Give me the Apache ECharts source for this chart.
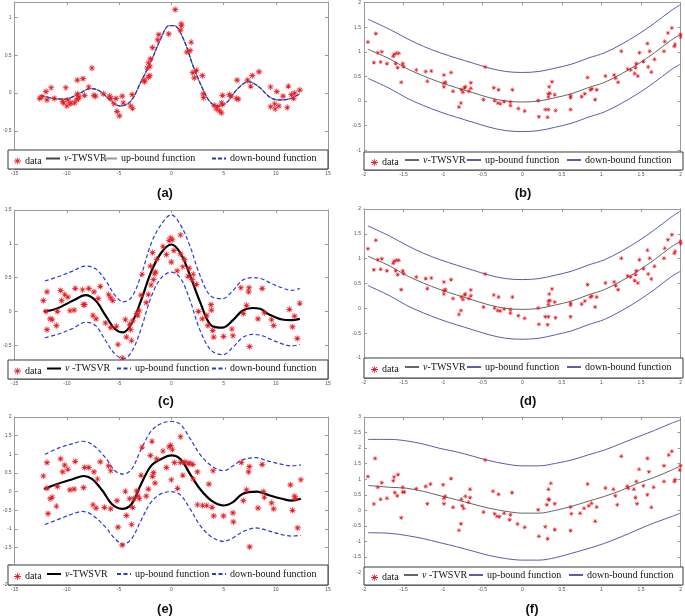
<!DOCTYPE html>
<html><head><meta charset="utf-8">
<script src="https://cdn.jsdelivr.net/npm/echarts@6/dist/echarts.min.js"></script>
<style>html,body{margin:0;padding:0;background:#fff}#c{width:685px;height:616px}</style>
</head><body><div id="c"></div>
<script>
// ---------- tick labels ----------
const xTicksLeft = [-15,-10,-5,0,5,10,15];
const xTicksRight = [-2,-1.5,-1,-0.5,0,0.5,1,1.5,2];
const yTicksA = [-1,-0.5,0,0.5,1];
const yTicksBD = [-1,-0.5,0,0.5,1,1.5,2];
const yTicksC = [-1,-0.5,0,0.5,1,1.5];
const yTicksE = [-2.5,-2,-1.5,-1,-0.5,0,0.5,1,1.5,2];
const yTicksF = [-2,-1.5,-1,-0.5,0,0.5,1,1.5,2,2.5,3];
const captions = ['(a)','(b)','(c)','(d)','(e)','(f)'];
const legendNames = ['data','ν-TWSVR','up-bound function','down-bound function'];

// ---------- panel (a) ----------
const aData = [[-12.6,-0.07],[-12.4,-0.05],[-12.0,0.02],[-11.9,-0.09],[-11.5,0.07],[-11.2,-0.07],[-10.4,-0.11],[-10.3,-0.13],[-10.1,0.07],[-10.0,-0.17],[-9.9,-0.09],[-9.7,-0.14],[-9.6,-0.13],[-9.25,-0.13],[-9.06,-0.09],[-9.0,0.17],[-9.0,-0.01],[-8.9,-0.07],[-8.85,-0.05],[-8.45,0.19],[-8.3,-0.03],[-7.9,0.08],[-7.6,0.33],[-7.4,-0.03],[-7.25,-0.04],[-6.5,-0.01],[-5.9,-0.04],[-5.8,-0.07],[-5.5,-0.14],[-5.3,-0.07],[-5.2,-0.24],[-4.97,-0.30],[-4.7,-0.04],[-4.6,-0.13],[-3.9,-0.17],[-3.75,-0.02],[-3.7,-0.20],[-2.6,0.17],[-2.56,0.15],[-2.3,0.33],[-2.2,0.40],[-2.2,0.21],[-2.06,0.23],[-2.03,0.35],[-2.0,0.45],[-1.8,0.60],[-1.3,0.70],[-1.2,0.77],[-0.25,0.78],[0.37,1.10],[0.88,0.83],[0.94,0.91],[1.0,0.89],[1.5,0.54],[1.9,0.67],[1.8,0.56],[2.06,0.27],[2.2,0.20],[2.4,0.30],[2.97,0.23],[3.06,-0.01],[3.1,-0.06],[4.1,-0.16],[4.3,-0.21],[4.4,-0.18],[4.6,-0.23],[4.8,-0.26],[4.8,-0.13],[4.9,-0.03],[4.9,-0.15],[5.56,-0.02],[5.7,-0.04],[6.25,-0.07],[6.3,0.17],[6.4,-0.08],[7.3,0.17],[7.6,0.09],[7.75,0.23],[8.4,0.28],[9.5,0.08],[9.5,-0.18],[9.9,-0.14],[9.94,-0.21],[10.1,0.02],[10.3,-0.17],[10.7,-0.04],[11.1,-0.19],[11.2,0.09],[11.5,-0.02],[11.7,-0.07],[11.8,0.0],[12.3,0.04]];
const aFit = [[-12.5,-0.03],[-11.3,-0.07],[-10.2,-0.08],[-9.0,-0.02],[-7.7,0.06],[-6.9,0.03],[-5.8,-0.10],[-4.9,-0.17],[-3.9,-0.11],[-2.9,0.15],[-1.9,0.43],[-1.0,0.72],[-0.2,0.89],[0.25,0.89],[1.2,0.70],[2.1,0.35],[3.06,0.04],[3.8,-0.13],[4.6,-0.17],[5.4,-0.11],[6.3,0.05],[7.4,0.15],[8.4,0.08],[9.3,-0.04],[10.2,-0.09],[11.2,-0.08],[12.3,-0.01]];

// ---------- panels (b) and (d) (same sample) ----------
const bData = [[-1.95,1.20],[-1.875,0.78],[-1.85,1.37],[-1.825,0.98],[-1.79,0.79],[-1.775,1.0],[-1.71,0.76],[-1.63,0.91],[-1.62,0.95],[-1.6,0.76],[-1.59,0.97],[-1.575,0.68],[-1.56,0.97],[-1.53,0.38],[-1.51,0.76],[-1.5,0.70],[-1.34,0.63],[-1.22,0.60],[-1.2,0.40],[-1.15,0.61],[-0.99,0.53],[-0.99,0.36],[-0.99,0.29],[-0.97,0.38],[-0.9,0.58],[-0.875,0.20],[-0.8,-0.12],[-0.775,-0.04],[-0.77,0.23],[-0.75,0.18],[-0.73,0.27],[-0.72,0.29],[-0.675,0.20],[-0.65,0.37],[-0.65,0.26],[-0.49,0.03],[-0.47,0.69],[-0.36,0.27],[-0.35,0.01],[-0.31,-0.04],[-0.3,0.23],[-0.28,-0.05],[-0.23,-0.01],[-0.15,-0.09],[-0.15,-0.02],[-0.125,0.23],[-0.05,-0.15],[0.03,-0.20],[0.2,0.01],[0.21,-0.32],[0.29,-0.17],[0.32,-0.33],[0.33,-0.17],[0.33,0.08],[0.33,0.15],[0.34,0.29],[0.35,0.16],[0.375,0.39],[0.41,0.13],[0.42,-0.19],[0.61,0.11],[0.61,0.07],[0.61,-0.17],[0.75,0.09],[0.79,0.15],[0.825,0.48],[0.86,0.23],[0.88,0.25],[0.92,0.03],[0.94,0.23],[1.05,0.51],[1.16,0.53],[1.18,0.46],[1.21,0.38],[1.25,1.01],[1.33,0.65],[1.37,0.63],[1.42,0.56],[1.43,0.68],[1.44,0.76],[1.46,0.51],[1.48,0.98],[1.53,0.80],[1.58,1.17],[1.59,0.69],[1.61,1.01],[1.63,0.59],[1.67,0.85],[1.79,1.01],[1.8,1.21],[1.84,1.38],[1.89,1.48],[1.92,1.11],[1.93,1.15],[2.0,1.35],[2.0,1.30]];
const bFit = [[-1.95,1.05],[-1.67,0.85],[-1.46,0.66],[-1.25,0.51],[-1.04,0.38],[-0.83,0.27],[-0.625,0.17],[-0.42,0.07],[-0.21,0.0],[0,-0.02],[0.21,0.0],[0.42,0.07],[0.625,0.15],[0.83,0.27],[1.04,0.38],[1.25,0.55],[1.46,0.75],[1.67,0.98],[1.875,1.23],[2.0,1.35]];
const bUp = [[-1.95,1.66],[-1.67,1.45],[-1.46,1.27],[-1.25,1.11],[-1.04,0.98],[-0.83,0.87],[-0.625,0.77],[-0.42,0.67],[-0.21,0.6],[0,0.58],[0.21,0.6],[0.42,0.67],[0.625,0.75],[0.83,0.87],[1.04,0.98],[1.25,1.15],[1.46,1.35],[1.67,1.58],[1.875,1.83],[2.0,1.96]];
const bDown = [[-1.95,0.46],[-1.67,0.25],[-1.46,0.06],[-1.25,-0.09],[-1.04,-0.22],[-0.83,-0.33],[-0.625,-0.43],[-0.42,-0.53],[-0.21,-0.6],[0,-0.62],[0.21,-0.6],[0.42,-0.53],[0.625,-0.45],[0.83,-0.33],[1.04,-0.22],[1.25,-0.05],[1.46,0.15],[1.67,0.38],[1.875,0.63],[2.0,0.75]];

// ---------- panel (c) ----------
const cData = [[-12.25,0.16],[-12.0,0.0],[-11.9,0.29],[-11.9,-0.27],[-11.6,-0.11],[-11.4,-0.12],[-11.0,-0.21],[-10.9,0.0],[-10.6,0.31],[-10.5,0.16],[-10.2,0.25],[-9.9,0.21],[-9.7,0.01],[-9.3,0.02],[-9.2,0.34],[-8.5,0.32],[-8.4,0.10],[-8.3,0.10],[-7.9,0.34],[-7.5,-0.06],[-7.4,0.29],[-7.2,-0.11],[-7.0,0.19],[-6.8,0.37],[-6.3,-0.17],[-6.0,0.25],[-5.8,-0.24],[-5.8,0.20],[-5.6,0.16],[-5.25,-0.22],[-5.1,-0.49],[-4.7,-0.69],[-4.4,-0.12],[-4.3,-0.38],[-4.0,-0.19],[-3.9,-0.27],[-3.8,-0.43],[-3.7,-0.14],[-3.3,-0.03],[-3.2,-0.06],[-3.06,0.01],[-2.9,0.24],[-2.8,0.55],[-2.4,0.13],[-2.2,0.25],[-2.0,0.67],[-1.94,0.39],[-1.8,0.87],[-1.7,0.47],[-1.6,0.56],[-1.5,0.58],[-1.4,0.77],[-0.8,0.96],[-0.47,0.84],[-0.2,1.05],[-0.06,1.09],[0.0,0.73],[0.1,1.06],[0.25,0.90],[0.56,0.60],[0.88,1.13],[0.88,0.85],[1.1,0.66],[1.25,0.77],[1.6,0.52],[1.7,0.64],[2.0,0.47],[2.1,0.55],[2.4,0.40],[2.6,0.0],[2.97,-0.11],[3.4,-0.06],[3.5,-0.21],[3.8,0.10],[3.84,0.02],[3.97,-0.28],[4.06,-0.38],[5.0,-0.37],[5.8,-0.26],[5.9,-0.36],[6.66,0.35],[6.9,-0.03],[7.2,0.09],[7.4,0.29],[7.44,0.35],[7.5,-0.52],[8.3,-0.11],[8.7,0.34],[8.9,-0.02],[9.6,-0.12],[9.8,-0.21],[11.3,0.03],[11.6,-0.23],[11.8,-0.07],[12.06,-0.40],[12.3,0.12]];
const cFit = [[-12.2,0.0],[-11.0,0.04],[-9.4,0.16],[-8.2,0.24],[-7.25,0.16],[-6.3,-0.06],[-5.4,-0.26],[-4.6,-0.31],[-3.8,-0.18],[-2.9,0.16],[-1.94,0.58],[-1.0,0.86],[0,0.99],[0.88,0.86],[1.8,0.53],[2.75,0.14],[3.84,-0.21],[4.94,-0.24],[5.9,-0.13],[6.8,0.01],[7.75,0.05],[8.5,0.04],[9.3,-0.04],[10.6,-0.12],[11.5,-0.13],[12.3,-0.11]];
const cUp = [[-12.1,0.45],[-10.7,0.52],[-9.4,0.60],[-8.2,0.67],[-7.25,0.63],[-6.3,0.46],[-5.4,0.24],[-4.6,0.14],[-3.8,0.21],[-2.9,0.53],[-1.94,1.0],[-1.0,1.28],[0,1.43],[0.88,1.28],[1.8,0.96],[2.75,0.53],[3.84,0.22],[4.94,0.19],[5.9,0.31],[6.8,0.46],[7.75,0.50],[8.7,0.48],[9.6,0.41],[10.6,0.35],[11.5,0.31],[12.3,0.34]];
const cDown = [[-12.1,-0.39],[-10.7,-0.33],[-9.4,-0.25],[-8.2,-0.16],[-7.25,-0.21],[-6.3,-0.43],[-5.4,-0.63],[-4.6,-0.70],[-3.8,-0.60],[-2.9,-0.26],[-1.94,0.21],[-1.0,0.49],[0,0.58],[0.88,0.49],[1.8,0.16],[2.75,-0.28],[3.84,-0.58],[4.94,-0.64],[5.9,-0.53],[6.8,-0.39],[7.75,-0.34],[8.7,-0.36],[9.6,-0.42],[10.6,-0.48],[11.5,-0.51],[12.3,-0.49]];

// ---------- panel (e) ----------
const eData = [[-12.25,0.42],[-11.9,0.78],[-11.9,0.09],[-11.8,-0.59],[-11.6,-0.19],[-11.4,-0.15],[-11.0,-0.39],[-10.9,0.14],[-10.6,0.88],[-10.4,0.53],[-10.2,0.71],[-9.9,0.60],[-9.7,0.05],[-9.3,0.07],[-9.2,0.81],[-8.3,0.65],[-8.4,0.11],[-7.9,0.65],[-7.5,-0.35],[-7.4,0.53],[-7.2,-0.44],[-7.06,0.34],[-6.8,0.80],[-6.4,-0.42],[-6.0,0.69],[-5.8,-0.46],[-5.8,0.56],[-5.2,-0.24],[-5.1,-0.95],[-4.7,-1.43],[-4.4,0.01],[-4.3,-0.64],[-4.0,-0.19],[-3.8,-0.88],[-3.7,-0.42],[-3.6,-0.19],[-3.3,0.02],[-3.2,-0.12],[-3.06,-0.19],[-2.9,0.44],[-2.8,1.19],[-2.4,-0.12],[-2.2,0.07],[-2.0,0.97],[-1.85,1.35],[-1.8,0.41],[-1.7,0.51],[-1.56,0.23],[-1.4,0.88],[-0.8,1.09],[-0.47,0.65],[-0.2,1.20],[-0.06,1.24],[0,0.32],[0.1,1.13],[0.3,0.78],[0.6,0.09],[0.88,1.47],[0.88,0.78],[1.1,0.44],[1.3,0.80],[1.6,0.76],[1.8,0.76],[2.06,0.73],[2.1,0.34],[2.5,0.53],[2.5,-0.35],[3.0,-0.37],[3.4,-0.37],[3.6,0.20],[3.9,-0.42],[4.0,0.56],[4.06,-0.65],[5.0,-0.65],[5.9,-0.57],[5.94,-0.81],[6.7,0.78],[6.9,-0.24],[7.2,0.05],[7.4,0.53],[7.47,0.67],[7.5,-1.48],[8.3,-0.44],[8.7,0.73],[8.8,0.0],[8.9,-0.15],[9.6,-0.30],[9.8,-0.46],[11.4,0.18],[11.6,-0.50],[11.8,-0.12],[11.9,-0.18],[12.1,-0.97],[12.4,0.32]];
const eFit = [[-12.2,0.07],[-11.0,0.20],[-9.4,0.34],[-8.4,0.42],[-7.6,0.34],[-6.6,0.03],[-5.7,-0.33],[-4.7,-0.46],[-3.8,-0.33],[-2.9,0.20],[-1.94,0.69],[-1.0,0.87],[0,0.97],[0.88,0.87],[1.8,0.47],[2.75,0.07],[3.84,-0.24],[5.0,-0.37],[5.9,-0.28],[6.8,-0.06],[8.2,0.0],[9.3,-0.09],[10.6,-0.19],[11.5,-0.24],[12.4,-0.19]];
const eUp = [[-12.1,1.0],[-10.7,1.18],[-9.4,1.29],[-8.5,1.35],[-7.6,1.27],[-6.3,0.91],[-5.4,0.56],[-4.6,0.47],[-3.8,0.60],[-2.9,1.13],[-1.94,1.62],[-1.0,1.82],[0,1.88],[0.88,1.80],[1.8,1.42],[2.75,1.0],[3.84,0.69],[5.0,0.56],[5.9,0.69],[6.8,0.85],[8.1,0.91],[9.3,0.82],[10.6,0.73],[11.5,0.69],[12.4,0.72]];
const eDown = [[-12.1,-0.88],[-10.7,-0.73],[-9.4,-0.59],[-8.5,-0.53],[-7.6,-0.62],[-6.3,-0.95],[-5.4,-1.26],[-4.6,-1.41],[-3.8,-1.26],[-2.9,-0.77],[-1.94,-0.28],[-1.0,-0.06],[0,0.0],[0.88,-0.09],[1.8,-0.46],[2.75,-0.90],[3.84,-1.21],[5.0,-1.33],[5.9,-1.24],[6.8,-1.08],[8.1,-0.97],[9.3,-1.05],[10.6,-1.15],[11.5,-1.19],[12.4,-1.17]];

// ---------- panel (f) ----------
const fData = [[-1.95,1.09],[-1.875,0.20],[-1.86,1.67],[-1.825,0.74],[-1.79,0.36],[-1.775,0.89],[-1.71,0.39],[-1.63,0.95],[-1.62,1.07],[-1.61,0.57],[-1.58,0.47],[-1.57,1.15],[-1.53,-0.24],[-1.51,0.74],[-1.51,0.59],[-1.49,0.59],[-1.34,0.69],[-1.22,0.77],[-1.2,0.21],[-1.16,0.85],[-1.0,0.82],[-0.99,0.39],[-0.99,0.21],[-0.975,0.45],[-0.9,1.02],[-0.875,0.10],[-0.8,-0.64],[-0.775,-0.43],[-0.77,0.36],[-0.76,0.15],[-0.74,0.07],[-0.72,0.45],[-0.68,0.26],[-0.66,0.68],[-0.66,0.41],[-0.49,-0.05],[-0.47,1.62],[-0.37,0.61],[-0.35,-0.11],[-0.32,-0.19],[-0.3,0.52],[-0.29,-0.21],[-0.23,-0.09],[-0.16,-0.30],[-0.15,-0.14],[-0.13,0.57],[-0.06,-0.44],[0.03,-0.54],[0.2,0.02],[0.21,-0.83],[0.29,-0.53],[0.32,-0.91],[0.31,0.18],[0.33,0.36],[0.33,0.68],[0.34,0.34],[0.36,0.87],[0.41,0.21],[0.41,-0.62],[0.61,0.11],[0.62,-0.11],[0.61,-0.65],[0.73,-0.09],[0.78,0.07],[0.825,0.85],[0.84,0.15],[0.875,0.23],[0.92,-0.35],[0.94,0.11],[1.05,0.72],[1.15,0.68],[1.175,0.47],[1.2,0.18],[1.25,1.74],[1.325,0.77],[1.34,0.71],[1.41,0.68],[1.43,0.41],[1.44,0.93],[1.45,0.21],[1.475,1.32],[1.53,0.79],[1.58,1.67],[1.58,0.50],[1.6,1.24],[1.63,0.10],[1.66,0.74],[1.79,0.93],[1.79,1.43],[1.85,1.78],[1.89,1.90],[1.92,0.93],[1.93,0.98],[1.99,1.30],[2.0,1.43]];
const fFit = [[-1.95,0.80],[-1.67,0.74],[-1.46,0.71],[-1.25,0.61],[-1.04,0.47],[-0.83,0.34],[-0.625,0.20],[-0.42,0.07],[-0.21,-0.03],[0,-0.09],[0.21,-0.09],[0.42,0.0],[0.625,0.13],[0.83,0.29],[1.04,0.45],[1.25,0.64],[1.46,0.87],[1.67,1.06],[1.875,1.28],[2.0,1.43]];
const fUp = [[-1.95,2.28],[-1.67,2.28],[-1.46,2.23],[-1.25,2.13],[-1.04,1.99],[-0.83,1.88],[-0.625,1.74],[-0.42,1.60],[-0.21,1.49],[0,1.43],[0.21,1.43],[0.42,1.51],[0.625,1.62],[0.83,1.78],[1.04,1.94],[1.25,2.15],[1.46,2.36],[1.67,2.57],[1.875,2.79],[2.0,2.91]];
const fDown = [[-1.95,-0.72],[-1.67,-0.74],[-1.46,-0.81],[-1.25,-0.91],[-1.04,-1.04],[-0.83,-1.17],[-0.625,-1.31],[-0.42,-1.45],[-0.21,-1.55],[0,-1.60],[0.21,-1.60],[0.42,-1.52],[0.625,-1.38],[0.83,-1.23],[1.04,-1.06],[1.25,-0.85],[1.46,-0.62],[1.67,-0.40],[1.875,-0.21],[2.0,-0.09]];

// ---------- styling / layout ----------
const STAR = 'path://M-0.55,-5L0.55,-5L0.55,5L-0.55,5Z M-5,-0.55L5,-0.55L5,0.55L-5,0.55Z M-3.9,-3.1L-3.1,-3.9L3.9,3.1L3.1,3.9Z M3.1,-3.9L3.9,-3.1L-3.1,3.9L-3.9,3.1Z';
const STYLES = {
  a: {star:6, halo:true, fit:{color:'#444',width:1}, up:{color:'#999',width:1}, down:{color:'#2b35c8',width:1.3,type:[4,2]}},
  thin: {star:4.5, halo:false, fit:{color:'#666',width:1}, up:{color:'#5c5ca8',width:1}, down:{color:'#5c5ca8',width:1}},
  bold: {star:6, halo:true, fit:{color:'#000',width:2.2}, up:{color:'#2b3bd0',width:1.2,type:[4,2.5]}, down:{color:'#2b3bd0',width:1.2,type:[4,2.5]}}
};
const PANELS = [
  {id:'a', grid:{left:8,top:2,width:320,height:167}, x:[-15,15], y:[-1,1.2], xt:xTicksLeft, yt:yTicksA, box:{top:150,h:19}, lg:[6,37,94,203], nu:'{i|ν}-TWSVR', st:'a', d:[aData,aFit,aFit,aFit], cap:[165,193]},
  {id:'b', grid:{left:364,top:1,width:319,height:169}, x:[-2,2], y:[-1.4,2], xt:xTicksRight, yt:yTicksBD, box:{top:152,h:18}, lg:[7,40,102,202], nu:'{i|ν}-TWSVR', st:'thin', d:[bData,bFit,bUp,bDown], cap:[523,193]},
  {id:'c', grid:{left:8,top:210,width:320,height:169}, x:[-15,15], y:[-1,1.5], xt:xTicksLeft, yt:yTicksC, box:{top:360,h:19}, lg:[6,38,108,203], nu:'{i|ν} -TWSVR', st:'bold', d:[cData,cFit,cUp,cDown], cap:[166,401]},
  {id:'d', grid:{left:364,top:209,width:319,height:169}, x:[-2,2], y:[-1.4,2], xt:xTicksRight, yt:yTicksBD, box:{top:358,h:20}, lg:[7,40,102,202], nu:'{i|ν}-TWSVR', st:'thin', d:[bData,bFit,bUp,bDown], cap:[528,401]},
  {id:'e', grid:{left:8,top:417,width:320,height:168}, x:[-15,15], y:[-2.5,2], xt:xTicksLeft, yt:yTicksE, box:{top:565,h:20}, lg:[6,38,108,203], nu:'{i|ν}-TWSVR', st:'bold', d:[eData,eFit,eUp,eDown], cap:[165,609]},
  {id:'f', grid:{left:364,top:417,width:319,height:168}, x:[-2,2], y:[-2.4,3], xt:xTicksRight, yt:yTicksF, box:{top:567,h:18}, lg:[7,39,104,204], nu:'{i|ν} -TWSVR', st:'thin', d:[fData,fFit,fUp,fDown], cap:[532,609]}
];

const axisCol = '#9a9a9a';
const lblStyle = {fontSize:5, color:'#555', fontFamily:'Liberation Sans'};
const grids=[], xAxes=[], yAxes=[], series=[], legends=[], graphics=[];

PANELS.forEach((p,i)=>{
  grids.push(Object.assign({containLabel:false, show:false}, p.grid));
  const xi = xAxes.length, yi = yAxes.length;
  ['bottom','top'].forEach((pos,k)=>{
    xAxes.push({type:'value', gridIndex:i, position:pos, min:p.x[0], max:p.x[1],
      axisLine:{show:true, onZero:false, lineStyle:{color:axisCol,width:1}},
      axisTick:{show:true, inside:true, length:3, customValues:p.xt, lineStyle:{color:axisCol}},
      axisLabel:{show:k===0, customValues:p.xt, margin:2, ...lblStyle},
      splitLine:{show:false}});
  });
  ['left','right'].forEach((pos,k)=>{
    yAxes.push({type:'value', gridIndex:i, position:pos, min:p.y[0], max:p.y[1],
      axisLine:{show:true, onZero:false, lineStyle:{color:axisCol,width:1}},
      axisTick:{show:true, inside:true, length:3, customValues:p.yt, lineStyle:{color:axisCol}},
      axisLabel:{show:k===0, customValues:p.yt, margin:3, ...lblStyle},
      splitLine:{show:false}});
  });
  const s = STYLES[p.st];
  const names = legendNames.map(n=>p.id+':'+n);
  const labels = ['data', p.nu, 'up-bound function', 'down-bound function'];
  const keys = [null,'fit','up','down'];
  const curveOrder = p.st==='a' ? [1,2,3] : [2,3,1];
  curveOrder.forEach(k=>{
    const ls = s[keys[k]];
    series.push({type:'line', name:names[k], xAxisIndex:xi, yAxisIndex:yi, data:p.d[k], smooth:0.35,
      symbol:'none', showSymbol:false, silent:true, animation:false, z:2,
      itemStyle:{color:ls.color},
      lineStyle:Object.assign({type:'solid'}, ls)});
  });
  series.push({type:'scatter', name:names[0], xAxisIndex:xi, yAxisIndex:yi, data:p.d[0], symbol:STAR, symbolSize:s.star,
    silent:true, animation:false, z:3,
    itemStyle:{color:'#e3141c', opacity:0.95, shadowBlur:s.halo?2:0, shadowColor:'rgba(240,110,110,0.7)'}});
  graphics.push({type:'rect', z:5, shape:{x:p.grid.left, y:p.box.top, width:p.grid.width, height:p.box.h},
    style:{fill:'#fff', stroke:'#3a3a3a', lineWidth:1}});
  names.forEach((n,k)=>{
    const isData = k===0;
    legends.push({show:true, z:10, selectedMode:false, padding:0, itemGap:0, orient:'horizontal',
      left:p.grid.left + p.lg[k], top:p.box.top + p.box.h/2 - (isData?3.5:6),
      itemWidth:isData?7:14, itemHeight:isData?7:12,
      data:[isData?{name:n, icon:STAR}:{name:n, itemStyle:{opacity:0, color:'rgba(0,0,0,0)', borderWidth:0}}],
      formatter:()=>labels[k],
      textStyle:{fontFamily:'Liberation Serif', fontSize:10, color:'#111', padding:[0,0,0,-1],
        rich:{i:{fontFamily:'Liberation Serif', fontStyle:'italic', fontSize:10, color:'#111'}}}});
  });
  graphics.push({type:'text', z:10, x:p.cap[0], y:p.cap[1],
    style:{text:captions[i], font:'bold 13px "Liberation Sans", Arial', fill:'#111', textAlign:'center', textVerticalAlign:'middle'}});
});

const chart = echarts.init(document.getElementById('c'), null, {renderer:'canvas', width:685, height:616});
chart.setOption({
  animation:false, backgroundColor:'#fff',
  grid:grids, xAxis:xAxes, yAxis:yAxes, series:series, legend:legends, graphic:graphics
});
</script></body></html>
